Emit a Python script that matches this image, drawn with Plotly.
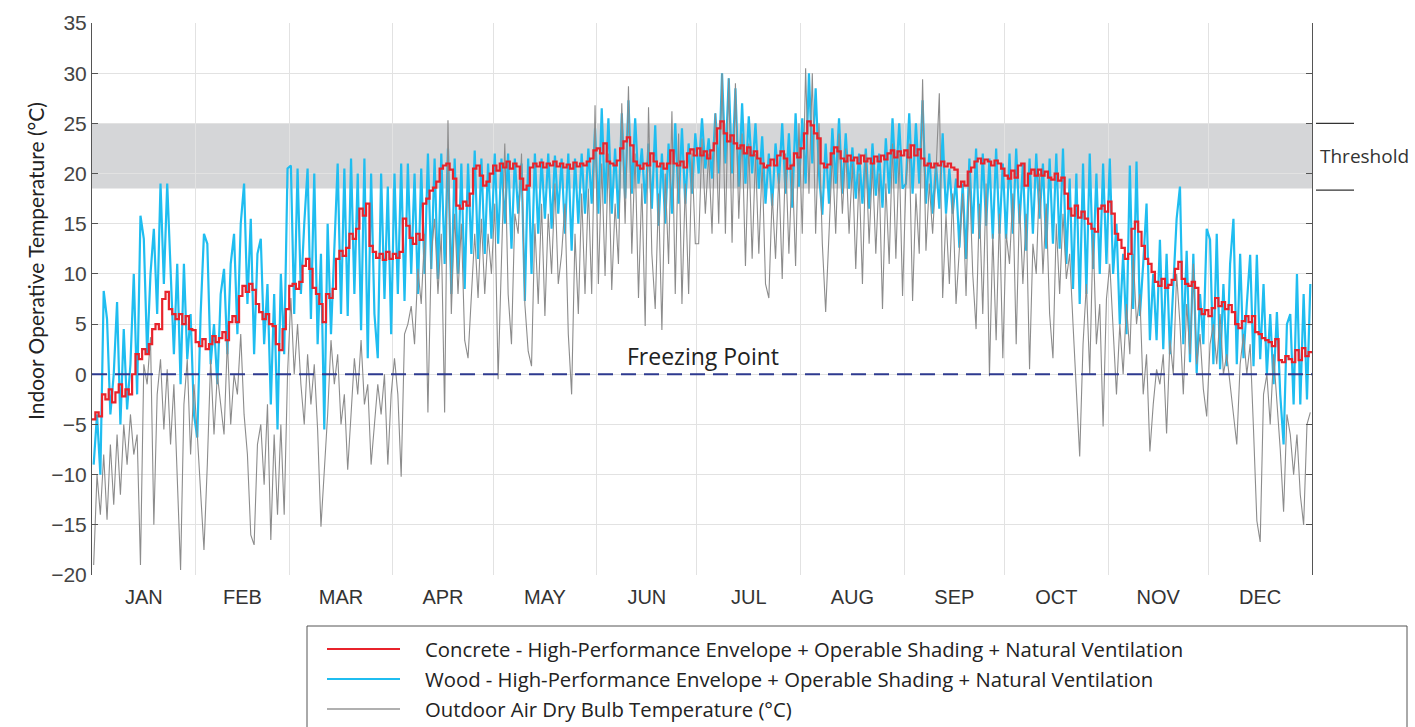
import numpy as np
import plotly.graph_objects as go

# ---- calendar ----
month_names = ["JAN", "FEB", "MAR", "APR", "MAY", "JUN", "JUL", "AUG", "SEP", "OCT", "NOV", "DEC"]
month_days = [31, 28, 31, 30, 31, 30, 31, 31, 30, 31, 30, 31]

# ---- daily temperatures (°C), one value per day of the year ----
concrete = [
    # Jan
    -4.5, -3.8, -4.2, -2, -2.5, -1.5, -2.8, -1.8, -1, -2.2, -1.5, -2, 0, 2, 1.5, 2.5, 2, 3, 4.5, 5, 4.5, 7.5, 8.2, 6.5, 6, 5.5, 6, 5, 5.8, 4.5, 4.4,
    # Feb
    3.2, 2.8, 3.5, 2.5, 3, 3.8, 3.2, 3.6, 4.2, 3.4, 5.2, 5.8, 5.2, 7.8, 8.8, 8.2, 9, 8.4, 7, 6.2, 5.5, 6, 5, 4.8, 3, 2.4, 4.5, 6.5,
    # Mar
    8.8, 9, 8.5, 9.2, 10.8, 11.5, 10.5, 8.6, 8, 7, 5.2, 8, 7.6, 8.5, 11.5, 12.3, 11.8, 12.6, 14, 13.5, 14.5, 16.5, 15.8, 17, 12.8, 12.2, 11.6, 12, 11.4, 12.2, 11.5,
    # Apr
    12, 11.6, 12.2, 15.5, 14.8, 13.6, 13, 14, 13.4, 17, 17.5, 18.3, 18.6, 19.2, 20.5, 20.8, 21, 20.4, 19.5, 16.8, 16.5, 17.2, 16.8, 18, 20.5, 20.8, 19.8, 18.8, 19.2, 20,
    # May
    20.8, 20.3, 21, 20.6, 21.2, 20.5, 21, 20.7, 19.5, 18.4, 18.8, 20.6, 21, 20.7, 21.1, 20.6, 21, 20.8, 21.2, 20.7, 21, 20.6, 20.9, 20.5, 21.1, 20.7, 21, 20.8, 21.2, 21.5, 22.3,
    # Jun
    22.5, 22, 23, 21.2, 21, 20.8, 21.3, 22.5, 23.2, 23.6, 22.8, 21.2, 20.8, 20.5, 21, 20.8, 22, 21.2, 20.7, 21, 20.5, 21, 22.3, 21, 20.8, 21.2, 20.6, 22, 22.4, 21.8,
    # Jul
    22.5, 21.8, 22.2, 21.5, 22.3, 23, 24.5, 25.2, 24, 23.2, 23.8, 23, 22.5, 22.8, 22, 22.6, 21.8, 22.2, 21.5, 21, 20.6, 20.8, 21.4, 20.8, 21.8, 22.2, 21.5, 20.5, 20.8, 22, 21.6,
    # Aug
    22.5, 24, 25.2, 24.8, 24, 23.5, 21, 20.6, 20.9, 22, 22.6, 22.2, 21.5, 21.2, 21.8, 21.3, 21.6, 21, 21.8, 21.2, 21.5, 21, 21.7, 21.2, 21.8, 21.4, 22, 22.3, 21.6, 22.2, 21.8,
    # Sep
    22.3, 21.6, 22.8, 21.8, 22.4, 21.5, 20.8, 21, 20.6, 21, 20.8, 21.2, 20.7, 21, 20.6, 20.4, 18.7, 19.2, 18.8, 20.2, 20.6, 21.2, 21.5, 21, 21.4, 21.2, 20.8, 21.3, 21, 20.5,
    # Oct
    19.8, 19.5, 20.3, 19.6, 20.8, 21, 18.8, 20, 20.4, 19.8, 20.4, 19.8, 20.2, 19.6, 19.4, 20, 19.3, 19.6, 18, 16.5, 15.8, 16.8, 15.6, 16.2, 15.5, 15, 14.5, 14.2, 16.5, 16.8, 16.2,
    # Nov
    17.2, 16, 14, 13.4, 12.6, 11.5, 12, 14.5, 15.2, 14.2, 12.8, 11.5, 11, 10.2, 9.2, 8.8, 9.5, 8.6, 8.9, 9.4, 10.5, 11.2, 9.5, 9, 8.8, 9.2, 8.6, 6.5, 6, 6.4,
    # Dec
    5.8, 6.6, 7.6, 6.8, 7.2, 6.5, 6.9, 6.2, 5, 4.6, 5.3, 5.8, 5.2, 5.8, 4.2, 4, 3.6, 3.4, 3.2, 2.8, 3.5, 1.4, 1.2, 1.8, 1.5, 1.2, 2.4, 1.4, 2.6, 1.8, 2.2,
]

wood = [
    # Jan
    -9, -4, -10, 8.3, 5.5, -4, 0, 7.2, -5, 4.5, -3.5, 1, 10, -2, 15.8, 13.5, 2, 10, 14.5, 6, 19, 9, 19, 11, 2, 11, -1, 11, 1.5, 6, -4,
    # Feb
    -6.3, 6, 14, 13, 1, 5, -1, 8, 10.5, 2, 11, 14, 4, 15, 19, 7, 15.5, 2, 12, 13.5, 3, 9, -3, 8, -5.5, 10, 2, 20.5,
    # Mar
    20.8, 6, 20.5, 8, 15, 20.5, 5.5, 20, 3, 12, -5.5, 15, 4, 13.5, 21, 6, 20.5, 5.8, 21.5, 8, 20, 4.4, 21.5, 1.6, 20, 6, 1.6, 20, 7.5, 18.7, 4,
    # Apr
    20, 8, 21, 7.3, 21, 10, 20, 8, 20.5, 10, 22, 10.5, 21.5, 9.5, 22, 11, 22.5, 8, 21.5, 10, 21, 8.5, 21, 12, 22.3, 11.5, 21.5, 12, 21, 13.5,
    # May
    22, 13, 21.5, 15, 22, 12.5, 21.5, 16, 21, 7.3, 21.5, 10, 22, 14, 21.5, 15.5, 22, 14.5, 21.8, 16, 21.5, 14, 22, 12.3, 21.5, 15, 22, 16, 22.5, 17, 24.5,
    # Jun
    16, 26.5, 17, 25.5, 16, 22.5, 15.5, 26, 17.5, 27.3, 18, 25.5, 19, 22.5, 17, 23, 16.5, 24.8, 14.8, 22, 15, 23, 16, 25, 17, 24.5, 17, 23, 18, 24,
    # Jul
    20, 25.5, 20.5, 23.5, 19.5, 26, 20, 30, 21, 29.5, 20, 28.5, 18.7, 27, 19, 25.7, 20, 25, 18.5, 23.7, 17, 22, 16.8, 23, 19, 25, 18, 24, 16.6, 26, 18.7,
    # Aug
    25.5, 19, 30, 21, 28.5, 20, 15.9, 23, 17, 24.5, 19, 25.5, 18, 24, 18.5, 22.6, 17.5, 22, 17, 22.5, 16.5, 23, 17.8, 22, 16.6, 23.5, 18, 25.5, 19, 25, 18.5,
    # Sep
    19, 26, 18, 25, 19, 27.3, 17, 22, 16, 21, 16.5, 24, 16, 20.5, 16, 19.5, 12.6, 19, 11.5, 21.5, 14, 22.5, 13.5, 22, 14.8, 21.5, 13.5, 22.5, 14, 21,
    # Oct
    13.5, 22, 14, 22.5, 15, 21, 12.3, 21.5, 14, 22, 15.5, 21, 12.5, 21.5, 13, 22, 12.5, 22.5, 11, 19.5, 8.5, 20, 7, 21, 8, 22, 10.5, 20, 10, 21, 11,
    # Nov
    21.5, 10, 15, 5, 12, 4, 20.8, 6.5, 21.2, 5.8, 11, 17, 3.4, 10, 3.4, 13.4, 2.5, 12, 2, 9, 15.5, 18.7, 3, 12.3, 1.2, 12, 0.1, 8, 3, 14.5,
    # Dec
    13.4, 1, 14, 0.5, 9, 0.8, 11, 15.5, 1, 12, 1.6, 7, 11.9, 0.8, 11.9, 1.5, 9, 0, 6, -1, 6.2, -2, -7, 5, 6, -3, 10, -3, 8, -2.5, 9,
]

outdoor = [
    # Jan
    -19, -10, -14, -8, -14.5, -7, -13, -6, -12, -5, -9, -4, -8, -6, -19, 1, -1, 3.7, -15, -2, 1.5, -5.5, 0.5, -7, -1, -10, -19.5, -3, 1.5, -8, -1,
    # Feb
    -6, -12, -17.5, -9, 1.5, -6, 0, -3, -6, 3.4, -5, 0, -2, 4, -4, -8, -16, -17, -7, -5, -11, -3, -16.5, -6, -14, -5, -14, 0,
    # Mar
    7.6, 0, 5, -1, -5, 2, -3, 1, -5.5, -15.2, -10, -4, 3.4, -1, 2, -5, -2, -9.5, -4, 1.6, -2, 3.4, -3, -1, -9, -5, -1, -4, 0, -9, -2,
    # Apr
    1.6, -2, -10.2, 4, 5, 6.8, 3, 10.5, 7, 14, -3.8, 12, 15.5, 8, 14, -3.8, 25.3, 6, 16, 8, 15, 3.4, 1.6, 8, 14, 7.6, 15.5, 8, 14, 10,
    # May
    17, -0.5, 12, 23, 8, 3, 16, 14, 22, 7, 2.3, 0.8, 15, 7, 17, 5.8, 16, 10, 19, 9, 12, 17, 4, -2, 14, 6, 18, 8, 18.5, 8, 26.8,
    # Jun
    9, 21, 9.8, 22, 8.4, 17, 11, 27, 15, 28.7, 12, 22, 7.6, 19, 4.8, 26.6, 12, 6.5, 18, 4.4, 20, 11, 26.2, 8, 24, 7, 19, 8, 22, 13,
    # Jul
    13, 23.5, 16, 22, 14, 26, 15, 30, 14, 29.5, 13.1, 29, 15.5, 24, 10.8, 23, 11.5, 22, 12, 21, 9, 7.6, 18, 11.5, 20, 9.5, 22, 12, 21, 10.8, 25,
    # Aug
    14, 30.5, 18, 30, 14, 25, 13, 6.2, 14, 22, 14, 24, 16, 22.5, 14, 21, 10.5, 20, 9, 22, 13, 21, 12, 20, 6.5, 19, 11, 23, 11.5, 22, 7.8,
    # Sep
    19, 23, 7.3, 18, 12, 29.4, 12.3, 19, 14, 20, 28, 7.6, 16, 9, 18, 7, 12, 18, 7.8, 20, 10, 4.5, 17, 6, 19, -0.2, 14, 3.4, 16, 1.6,
    # Oct
    14, 11, 18, 3, 17, 9, 16, 0.5, 13, 10, 20, 10, 17, 6, 1.6, 15, 8, 16, 9.5, 12, 5, -1, -8.2, 3, 9, 0, 14, 3, 7, -5.2, 7.5,
    # Nov
    11, 4, -2, 5, 0, 7, 2, 12, 5, 8, -2, 2, -7.7, -3, 0.5, -1, 2, -5.9, 3.4, 0, 10, 5, -2, 7, 2, 11, 1, 4, -1.5, -4.2,
    # Dec
    3, 5, 1, 6, 0, 2, -1, -4, -7, 1, 4, 0, 3, -5.5, -14.6, -16.7, -2, 0, -5, 2, -3, -7.5, -13.7, -4, -6, -10, -6, -12, -15, -5, -3.8,
]

comfort_band = (18.5, 25.0)
freezing_point = 0.0

# ---- geometry helpers (figure pixels -> paper fractions) ----
W, H = 1415, 727
M_L, M_R, M_T, M_B = 92, 103, 23, 152
PW, PH = W - M_L - M_R, H - M_T - M_B


def px_x(px):
    return (px - M_L) / PW


def px_y(py):
    return (H - M_B - py) / PH


month_starts = np.concatenate([[0], np.cumsum(month_days)[:-1]])
month_mids = month_starts + np.array(month_days) / 2.0
n_days = int(np.sum(month_days))
days = np.arange(n_days)

RED = "#e8232b"
CYAN = "#1fbdf0"
GREY = "#8c8c8c"
NAVY = "#2e3a8f"
TEXT_FONT = "Open Sans"

fig = go.Figure()

# wood: large daily swings
fig.add_trace(go.Scatter(
    x=days + 0.5, y=wood,
    mode="lines", line=dict(color=CYAN, width=2.2),
    name="Wood - High-Performance Envelope + Operable Shading + Natural Ventilation",
    showlegend=False, hoverinfo="skip",
))
# outdoor dry bulb
fig.add_trace(go.Scatter(
    x=days + 0.5, y=outdoor,
    mode="lines", line=dict(color=GREY, width=1.1),
    name="Outdoor Air Dry Bulb Temperature (°C)",
    showlegend=False, hoverinfo="skip",
))
# concrete: damped indoor response, stepped
fig.add_trace(go.Scatter(
    x=np.append(days, n_days), y=concrete + [concrete[-1]],
    mode="lines", line=dict(color=RED, width=2.2, shape="hv"),
    name="Concrete - High-Performance Envelope + Operable Shading + Natural Ventilation",
    showlegend=False, hoverinfo="skip",
))

shapes = [
    # comfort band
    dict(type="rect", xref="paper", yref="y", x0=0, x1=1,
         y0=comfort_band[0], y1=comfort_band[1],
         fillcolor="#d5d6d8", line=dict(width=0), layer="below"),
    # freezing line
    dict(type="line", xref="paper", yref="y", x0=0, x1=1,
         y0=freezing_point, y1=freezing_point,
         line=dict(color=NAVY, width=2, dash="15px,8px"), layer="above"),
    # threshold brackets at the right edge
    dict(type="line", xref="paper", yref="y", x0=px_x(1316), x1=px_x(1354),
         y0=comfort_band[1], y1=comfort_band[1], line=dict(color="#333", width=1.2)),
    dict(type="line", xref="paper", yref="y", x0=px_x(1316), x1=px_x(1354),
         y0=comfort_band[0] - 0.15, y1=comfort_band[0] - 0.15, line=dict(color="#333", width=1.2)),
    # legend frame
    dict(type="rect", xref="paper", yref="paper", x0=px_x(307), x1=px_x(1407),
         y0=px_y(745), y1=px_y(626), line=dict(color="#555", width=1), fillcolor="white"),
]

legend_rows = [
    ("Concrete - High-Performance Envelope + Operable Shading + Natural Ventilation", RED, 2.2, 649),
    ("Wood - High-Performance Envelope + Operable Shading + Natural Ventilation", CYAN, 2.2, 679),
    ("Outdoor Air Dry Bulb Temperature (°C)", "#b0b0b0", 2, 709),
]

annotations = [
    dict(text="Indoor Operative Temperature (°C)", xref="paper", yref="paper",
         x=px_x(35), y=px_y(261), textangle=-90, showarrow=False,
         xanchor="center", yanchor="middle",
         font=dict(family="Lato", size=21, color="#222")),
    dict(text="Freezing Point", xref="x", yref="y", x=182.8, y=1.85,
         showarrow=False, xanchor="center", yanchor="middle",
         font=dict(family=TEXT_FONT, size=23, color="#222")),
    dict(text="Threshold", xref="paper", yref="paper", x=px_x(1318), y=px_y(156),
         showarrow=False, xanchor="left", yanchor="middle",
         font=dict(family=TEXT_FONT, size=19, color="#333")),
]

for label, color, width, py in legend_rows:
    shapes.append(dict(type="line", xref="paper", yref="paper",
                       x0=px_x(327), x1=px_x(400), y0=px_y(py), y1=px_y(py),
                       line=dict(color=color, width=width)))
    annotations.append(dict(text=label, xref="paper", yref="paper",
                            x=px_x(423), y=px_y(py), showarrow=False,
                            xanchor="left", yanchor="middle",
                            font=dict(family=TEXT_FONT, size=20.3, color="#222")))

fig.update_layout(
    width=W, height=H,
    margin=dict(l=M_L, r=M_R, t=M_T, b=M_B, pad=0),
    plot_bgcolor="white", paper_bgcolor="white",
    showlegend=False,
    shapes=shapes, annotations=annotations,
    xaxis=dict(
        range=[0, n_days], tickmode="array",
        tickvals=month_mids.tolist(), ticktext=month_names,
        showgrid=False, zeroline=False, showline=False, ticks="",
        ticklabelstandoff=8,
        tickfont=dict(family="Liberation Sans", size=20, color="#333"),
        minor=dict(tickmode="array", tickvals=month_starts.tolist(),
                   showgrid=True, gridcolor="#e2e2e2", gridwidth=1, ticks=""),
    ),
    yaxis=dict(
        range=[-20, 35], tickmode="array", tickvals=list(range(-20, 36, 5)),
        showgrid=True, gridcolor="#e2e2e2", gridwidth=1, zeroline=False,
        showline=True, linecolor="#555", linewidth=1, mirror="ticks",
        ticks="inside", ticklen=6, tickcolor="#555",
        tickfont=dict(family="Liberation Sans", size=21, color="#444"),
    ),
)

fig.write_html("out.html")
